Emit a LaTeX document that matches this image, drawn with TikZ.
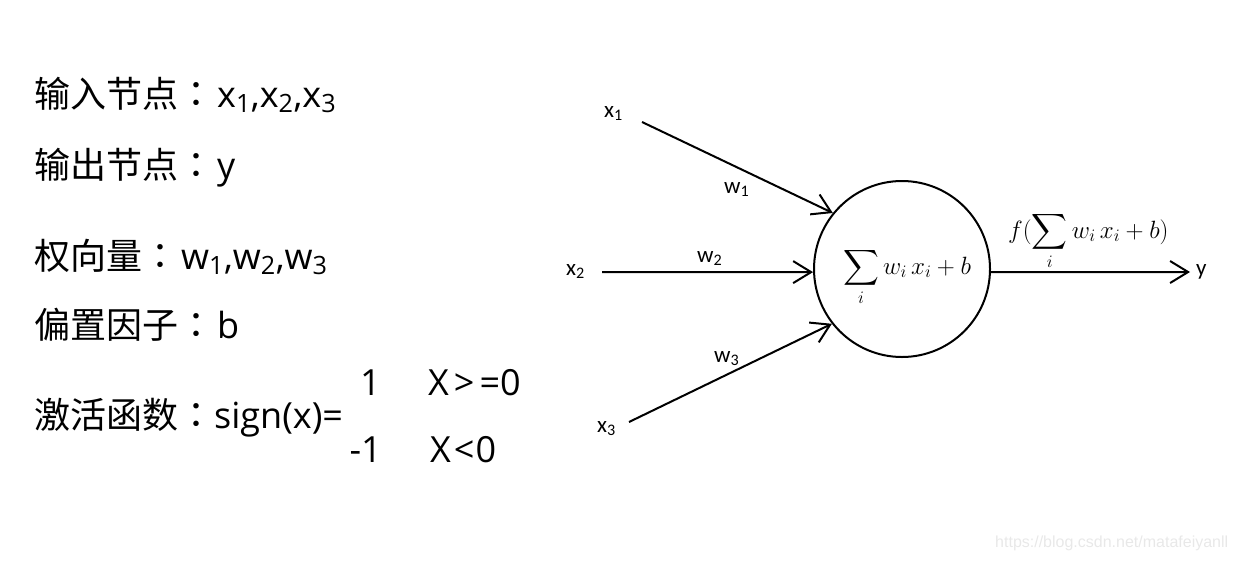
\RequirePackage{fix-cm}
\documentclass[tikz,border=0pt]{standalone}
\usepackage{amsmath}
\usepackage[no-math]{fontspec}
\setmainfont{Open Sans}
\newfontfamily\cjk{Noto Sans CJK SC}
\newfontfamily\cjkpunct{Noto Sans CJK JP}
\newfontfamily\lblfont{Carlito}
\newfontfamily\urlfont{Liberation Sans}
\usetikzlibrary{arrows.meta,positioning}
\definecolor{markgray}{RGB}{232,232,232}
\newcommand{\colonsep}{{\cjkpunct ：}\kern3pt}

\begin{document}
\begin{tikzpicture}[
    x=1pt, y=-1pt,
    txt/.style={anchor=base west, inner sep=0pt, font=\fontsize{36}{40}\selectfont},
    lbl/.style={anchor=base west, inner sep=0pt, font=\lblfont\fontsize{23}{26}\selectfont},
    formula/.style={inner sep=0pt, font=\fontsize{25}{29}\selectfont},
    cell/.style={circle, draw, line width=2pt, minimum size=176pt, inner sep=0pt},
    arrow/.style={-{Straight Barb[length=18pt,width=22pt]}, line width=2pt}
]
\useasboundingbox (0,0) rectangle (1233,560);

\node[txt] (inp) at (34,107) {{\cjk 输入节点}\colonsep x\textsubscript{1},x\textsubscript{2},x\textsubscript{3}};
\node[txt] (outp) at (34,178) {{\cjk 输出节点}\colonsep y};
\node[txt] (wvec) at (34,269) {{\cjk 权向量}\colonsep w\textsubscript{1},w\textsubscript{2},w\textsubscript{3}};
\node[txt] (bias) at (34,338) {{\cjk 偏置因子}\colonsep b};
\node[txt] (act) at (34,428) {{\cjk 激活函数}{\cjkpunct ：}sign(x)=};
\node[txt, anchor=base east] (posv) at (381,395) {1};
\node[txt] (poscond) at (428,395) {X\kern5pt>\kern5pt=0};
\node[txt, anchor=base east] (negv) at (382,462) {-1};
\node[txt] (negcond) at (430,462) {X\kern3pt<\kern1pt0};

\node[cell] (neuron) at (902,269) {};
\node[formula] (sumtxt) at (907,277) {$\displaystyle\sum_i w_i\,x_i+b$};
\node[formula, anchor=base west] (ftxt) at (1008,238) {$\displaystyle f(\sum_i w_i\,x_i+b)$};

\coordinate (t1) at (642,122);
\coordinate (t2) at (602,272);
\coordinate (t3) at (629,422);
\coordinate (yend) at (1190,272);

\node[lbl] (x1) at (604,117) {x\textsubscript{1}};
\node[lbl] (x2) at (566,275) {x\textsubscript{2}};
\node[lbl] (x3) at (597,432) {x\textsubscript{3}};
\node[lbl] (w1) at (724,193) {w\textsubscript{1}};
\node[lbl] (w2) at (697,262) {w\textsubscript{2}};
\node[lbl] (w3) at (714,362) {w\textsubscript{3}};
\node[lbl, anchor=west, right=6pt of yend] (ylab) {y};

\draw[arrow] (t1) -- (neuron.141);
\draw[arrow] (t2) -- (neuron.182);
\draw[arrow] (t3) -- (neuron.218);
\draw[arrow] (neuron.-2) -- (yend);

\node[anchor=base west, inner sep=0pt, text=markgray, font=\urlfont\fontsize{16}{18}\selectfont] (mark) at (995,547) {https://blog.csdn.net/matafeiyanll};
\end{tikzpicture}
\end{document}
